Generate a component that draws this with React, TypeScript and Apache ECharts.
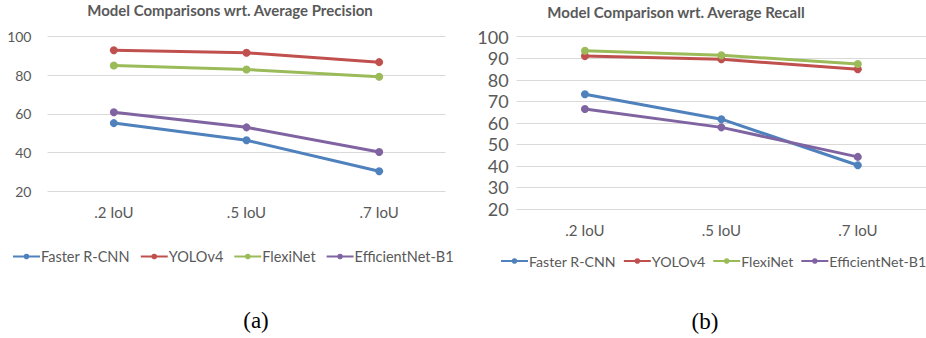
import React, { useEffect, useRef } from "react";
import * as echarts from "echarts";

const categories = [".2 IoU", ".5 IoU", ".7 IoU"];
const seriesNames = ["Faster R-CNN", "YOLOv4", "FlexiNet", "EfficientNet-B1"];
const colors = ["#4F81BD", "#C0504D", "#9BBB59", "#8064A2"];

// (a) Average Precision
const precisionFasterRCNN = [55.2, 46.3, 30.2];
const precisionYOLOv4 = [93.0, 91.7, 86.8];
const precisionFlexiNet = [85.1, 83.0, 79.2];
const precisionEfficientNet = [60.8, 53.0, 40.2];

// (b) Average Recall
const recallFasterRCNN = [73.3, 61.7, 40.3];
const recallYOLOv4 = [91.0, 89.5, 84.9];
const recallFlexiNet = [93.5, 91.4, 87.3];
const recallEfficientNet = [66.4, 57.9, 44.2];

const titles = ["Model Comparisons wrt. Average Precision", "Model Comparison wrt. Average Recall"];
const captions = ["(a)", "(b)"];

const FONT = "Lato";
const GREY = "#595959";

export default function App() {
  const ref = useRef<HTMLDivElement>(null);
  useEffect(() => {
    document.body.style.margin = "0";
    const chart = echarts.init(ref.current!, null, { renderer: "svg" });
    const precision = [precisionFasterRCNN, precisionYOLOv4, precisionFlexiNet, precisionEfficientNet];
    const recall = [recallFasterRCNN, recallYOLOv4, recallFlexiNet, recallEfficientNet];

    const mkSeries = (data: number[][], idx: number) =>
      data.map((d, i) => ({
        name: seriesNames[i],
        type: "line",
        xAxisIndex: idx,
        yAxisIndex: idx,
        data: d,
        symbol: "circle",
        symbolSize: 8,
        lineStyle: { width: 3, color: colors[i] },
        itemStyle: { color: colors[i] },
        z: i === 1 || i === 2 ? 3 : 2,
      }));

    const axisLabel = { color: GREY, fontFamily: FONT };
    const titleStyle = { fontFamily: FONT, fontWeight: "bold", fontSize: 15, color: GREY };

    chart.setOption({
      animation: false,
      backgroundColor: "#ffffff",
      color: colors,
      title: [
        { text: titles[0], left: 230, top: 2, padding: 0, textAlign: "center", textStyle: titleStyle },
        { text: titles[1], left: 676, top: 4, padding: 0, textAlign: "center", textStyle: titleStyle },
      ],
      legend: [
        {
          data: seriesNames,
          left: 12,
          top: 249,
          width: 600,
          padding: 0,
          itemWidth: 27,
          itemHeight: 7,
          itemGap: 10,
          textStyle: { color: GREY, fontFamily: FONT, fontSize: 14.5, padding: [0, 0, 0, -4] },
        },
        {
          data: seriesNames,
          left: 500,
          top: 254,
          width: 600,
          padding: 0,
          itemWidth: 27,
          itemHeight: 7,
          itemGap: 7,
          textStyle: { color: GREY, fontFamily: FONT, fontSize: 14.2, padding: [0, 0, 0, -4] },
        },
      ],
      grid: [
        { left: 47.5, right: 480.5, top: 36.7, bottom: 147, containLabel: false },
        { left: 516.7, right: -10.7, top: 36.7, bottom: 129, containLabel: false },
      ],
      xAxis: [0, 1].map((g) => ({
        type: "category",
        gridIndex: g,
        data: categories,
        boundaryGap: true,
        axisLine: { show: false },
        axisTick: { show: false },
        axisLabel: { ...axisLabel, fontSize: 15, margin: 13 },
      })),
      yAxis: [
        {
          type: "value",
          gridIndex: 0,
          min: 20,
          max: 100,
          interval: 20,
          axisLine: { show: false },
          axisTick: { show: false },
          axisLabel: { ...axisLabel, fontSize: 14, margin: 16 },
          splitLine: { lineStyle: { color: "#d9d9d9", width: 1 } },
        },
        {
          type: "value",
          gridIndex: 1,
          min: 20,
          max: 100,
          interval: 10,
          axisLine: { show: false },
          axisTick: { show: false },
          axisLabel: { ...axisLabel, fontSize: 18, margin: 8 },
          splitLine: { lineStyle: { color: "#d9d9d9", width: 1 } },
        },
      ],
      series: [...mkSeries(precision, 0), ...mkSeries(recall, 1)],
      graphic: [
        {
          type: "text",
          x: 256,
          y: 320,
          style: {
            text: captions[0],
            fontFamily: "Liberation Serif",
            fontSize: 23,
            fill: "#000",
            textAlign: "center",
            textVerticalAlign: "middle",
          },
        },
        {
          type: "text",
          x: 705,
          y: 321,
          style: {
            text: captions[1],
            fontFamily: "Liberation Serif",
            fontSize: 23,
            fill: "#000",
            textAlign: "center",
            textVerticalAlign: "middle",
          },
        },
      ],
    });
    return () => chart.dispose();
  }, []);
  return <div ref={ref} style={{ position: "absolute", left: 0, top: 0, width: 926, height: 338 }} />;
}
